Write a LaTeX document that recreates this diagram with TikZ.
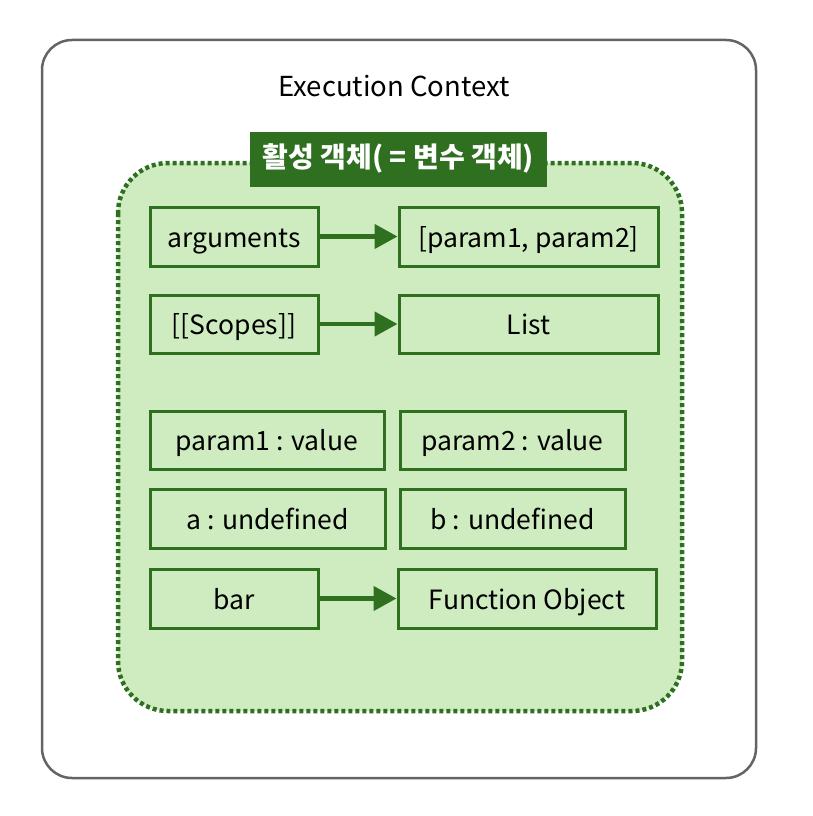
\documentclass[tikz,border=0pt]{standalone}
\usepackage{fontspec}
\setmainfont{Noto Sans CJK KR}
\usetikzlibrary{arrows.meta}
\definecolor{lgreen}{RGB}{207,236,192}
\definecolor{dgreen}{RGB}{46,112,32}
\definecolor{outer}{RGB}{100,100,100}
\tikzset{
  itembox/.style={draw=dgreen, line width=3pt, fill=lgreen, rectangle, inner sep=0pt, text height=21pt, text depth=0pt, font=\fontsize{26.5}{30}\selectfont},
  link/.style={draw=dgreen, line width=4.5pt, -{Triangle[length=23pt,width=24pt]}}
}
\begin{document}
\begin{tikzpicture}[x=1pt,y=-1pt]
\useasboundingbox (0,0) rectangle (812,816);
\draw[outer, line width=2.5pt, rounded corners=30pt, fill=white] (42,40) rectangle (756,778);
\node (ec) at (394,86) {\fontsize{27.5}{31}\selectfont Execution Context};
\draw[dgreen, fill=lgreen, line width=4.5pt, dash pattern=on 4pt off 3pt, rounded corners=50pt] (118,163) rectangle (682,711);
\node[fill=dgreen, text=white, minimum width=297pt, minimum height=55pt, inner sep=0pt, text height=20pt, text depth=5pt, font=\fontsize{28}{32}\selectfont\bfseries] (title) at (398.5,159.5) {활성 객체( = 변수 객체)};
\node[itembox, minimum width=168pt, minimum height=59pt] (args) at (234,236.5) {arguments};
\node[itembox, minimum width=259pt, minimum height=59pt] (plist) at (528.5,236.5) {[param1, param2]};
\node[itembox, minimum width=168pt, minimum height=58pt] (scopes) at (234,324) {[[Scopes]]};
\node[itembox, minimum width=259pt, minimum height=58pt] (list) at (528.5,324) {List};
\node[itembox, minimum width=234pt, minimum height=58pt] (p1) at (267,440) {param1 : value};
\node[itembox, minimum width=225pt, minimum height=58pt] (p2) at (512.5,440) {param2 : value};
\node[itembox, minimum width=235pt, minimum height=59pt] (a) at (267.5,518.5) {a : undefined};
\node[itembox, minimum width=225pt, minimum height=59pt] (b) at (512.5,518.5) {b : undefined};
\node[itembox, minimum width=168pt, minimum height=59pt] (bar) at (234,598.5) {bar};
\node[itembox, minimum width=258pt, minimum height=59pt] (fobj) at (527,598.5) {Function Object};
\draw[link] (args.east) -- (plist.west);
\draw[link] (scopes.east) -- (list.west);
\draw[link] (bar.east) -- (fobj.west);
\end{tikzpicture}
\end{document}
